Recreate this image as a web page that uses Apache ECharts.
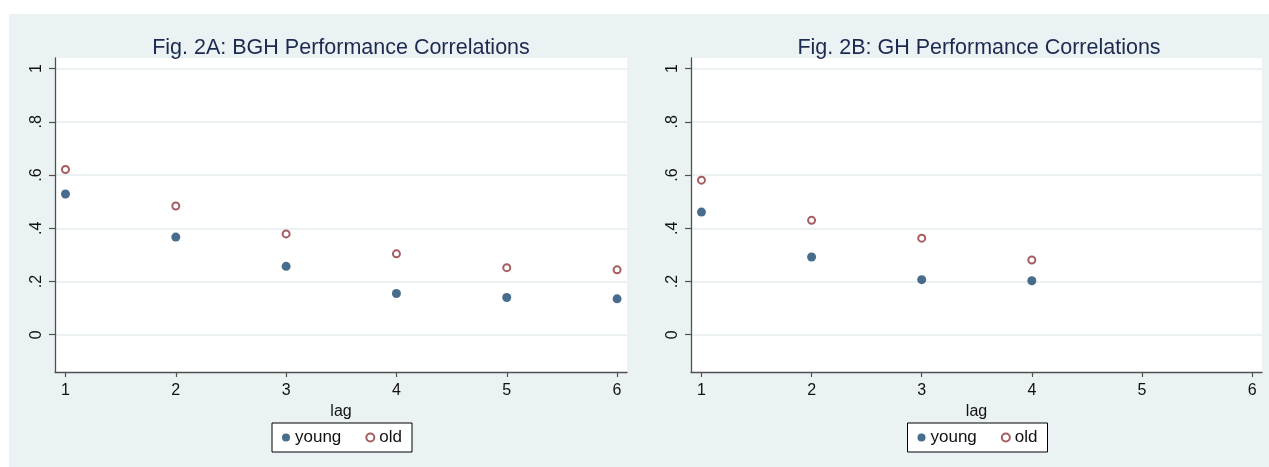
<!DOCTYPE html>
<html>
<head>
<meta charset="utf-8">
<script src="https://cdn.jsdelivr.net/npm/echarts@6/dist/echarts.min.js"></script>
<style>
  html, body { margin: 0; padding: 0; background: #ffffff; }
  #chart { width: 1269px; height: 467px; }
</style>
</head>
<body>
<div id="chart"></div>
<script>
// Correlation of performance by lag, young vs old
const lagsA = [1, 2, 3, 4, 5, 6];
const youngA = [0.529, 0.367, 0.257, 0.155, 0.140, 0.135];
const oldA = [0.621, 0.484, 0.379, 0.304, 0.252, 0.244];

const lagsB = [1, 2, 3, 4];
const youngB = [0.461, 0.292, 0.207, 0.203];
const oldB = [0.581, 0.430, 0.363, 0.281];

const xTicks = [1, 2, 3, 4, 5, 6];
const yTicks = [0, 0.2, 0.4, 0.6, 0.8, 1];
const titles = ['Fig. 2A: BGH Performance Correlations', 'Fig. 2B: GH Performance Correlations'];
const xName = 'lag';
const seriesNames = ['young', 'old'];

const FONT = '"Liberation Sans", Arial, sans-serif';
const BG = '#eaf2f3';
const NAVY = '#1a476f';
const MAROON = '#90353b';
const AXIS = '#505050';

const grids = [
  { left: 55, top: 58, width: 572, height: 314 },
  { left: 691, top: 58, width: 571, height: 314 }
];
const titleCenters = [336, 974];

const pair = (xs, ys) => xs.map((x, i) => [x, ys[i]]);
const fmtY = v => {
  const s = String(Math.round(v * 10) / 10);
  return s.replace(/^0\./, '.');
};

function xAxis(i) {
  return {
    gridIndex: i, type: 'value', min: 0.905, max: 6.09,
    name: xName, nameLocation: 'middle', nameGap: 27,
    nameTextStyle: { fontFamily: FONT, fontSize: 16, color: '#111' },
    axisLine: { show: true, onZero: false, lineStyle: { color: AXIS, width: 1.3 } },
    axisTick: { show: true, length: 5, customValues: xTicks, lineStyle: { color: AXIS, width: 1.2 } },
    axisLabel: { customValues: xTicks, margin: 11, fontFamily: FONT, fontSize: 16, color: '#111' },
    splitLine: { show: false }
  };
}

function yAxis(i) {
  return {
    gridIndex: i, type: 'value', min: -0.14, max: 1.04,
    axisLine: { show: true, onZero: false, lineStyle: { color: AXIS, width: 1.3 } },
    axisTick: { show: true, length: 6, customValues: yTicks, lineStyle: { color: AXIS, width: 1.2 } },
    axisLabel: { customValues: yTicks, rotate: 90, margin: 10, fontFamily: FONT, fontSize: 16, color: '#111', formatter: fmtY },
    splitLine: { show: true, lineStyle: { color: '#e6eef0', width: 1.5 } }
  };
}

function scatter(name, idx, data) {
  const young = name === seriesNames[0];
  return {
    name, type: 'scatter', xAxisIndex: idx, yAxisIndex: idx, data,
    symbol: young ? 'circle' : 'emptyCircle',
    symbolSize: young ? 9 : 7,
    itemStyle: young ? { color: NAVY } : { color: MAROON, borderWidth: 1.7 },
    emphasis: { disabled: true },
    z: 5
  };
}

function legend(cx) {
  return {
    data: seriesNames, left: cx - 69, top: 423, orient: 'horizontal',
    padding: [6, 10, 6, 10], itemGap: 24, itemWidth: 8, itemHeight: 8,
    borderColor: '#000', borderWidth: 1, backgroundColor: '#fff', borderRadius: 0,
    textStyle: { fontFamily: FONT, fontSize: 17, color: '#111' },
    selectedMode: false
  };
}

const chart = echarts.init(document.getElementById('chart'), null, { renderer: 'canvas' });
chart.setOption({
  animation: false,
  backgroundColor: '#ffffff',
  graphic: [{
    type: 'rect', left: 9, top: 14, z: -10,
    shape: { width: 1260, height: 453 },
    style: { fill: BG }
  }],
  title: titles.map((t, i) => ({
    text: t,
    left: titleCenters[i],
    textAlign: 'center',
    top: 32,
    textStyle: { fontFamily: FONT, fontSize: 21.5, fontWeight: 'normal', color: '#1c2a50' }
  })),
  grid: grids.map(g => Object.assign({ show: true, backgroundColor: '#ffffff', borderWidth: 0 }, g)),
  legend: grids.map(g => legend(g.left + g.width / 2)),
  xAxis: [xAxis(0), xAxis(1)],
  yAxis: [yAxis(0), yAxis(1)],
  series: [
    scatter('young', 0, pair(lagsA, youngA)),
    scatter('old', 0, pair(lagsA, oldA)),
    scatter('young', 1, pair(lagsB, youngB)),
    scatter('old', 1, pair(lagsB, oldB))
  ]
});
</script>
</body>
</html>
